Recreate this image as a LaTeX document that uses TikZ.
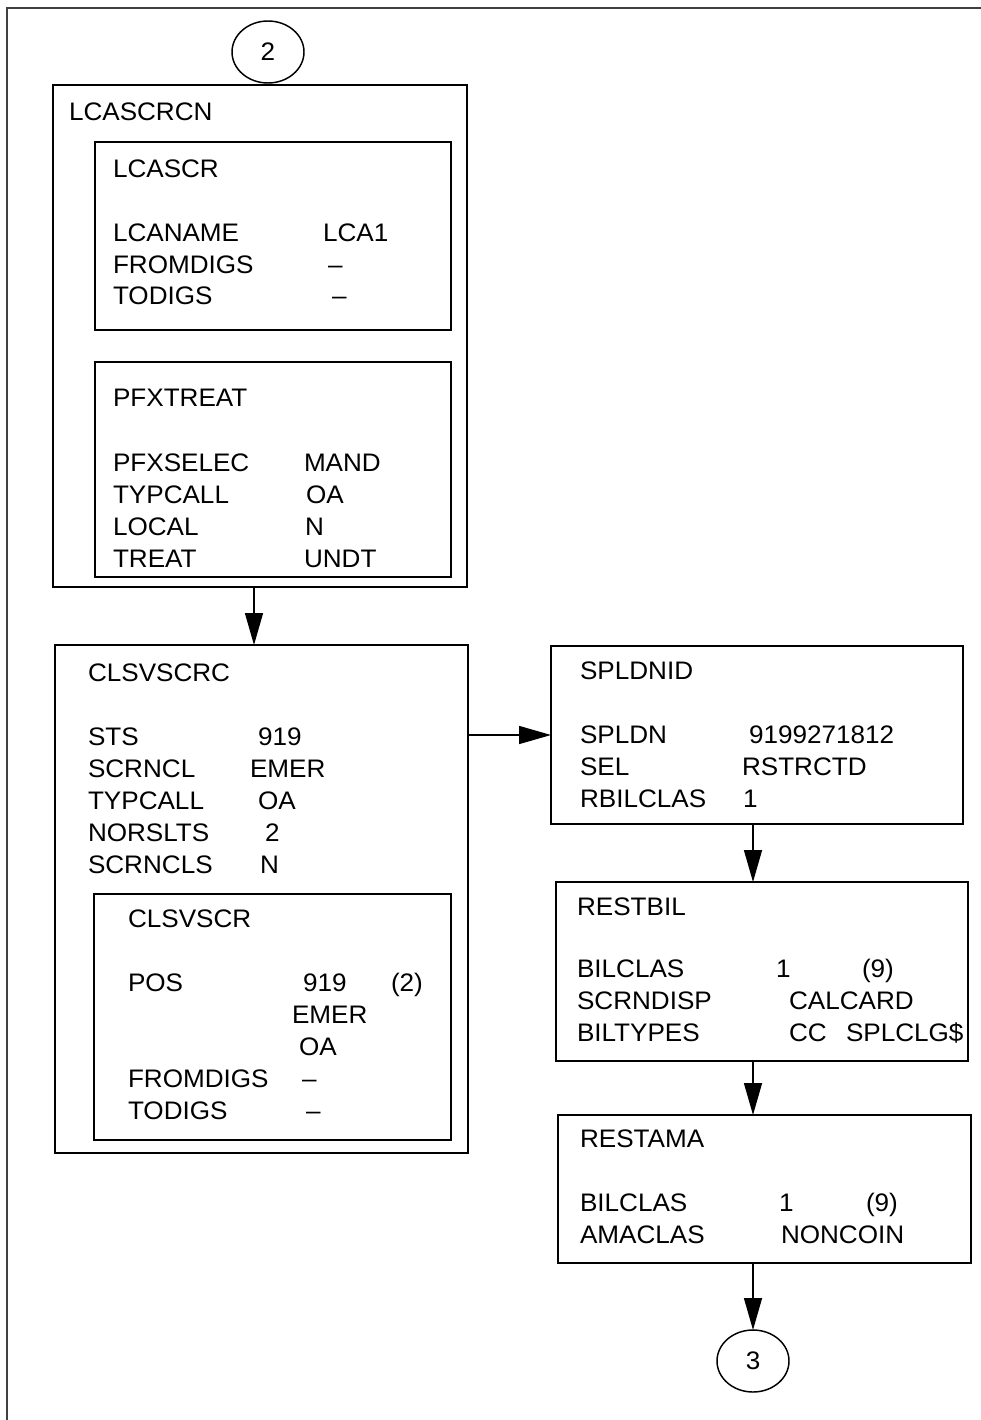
\documentclass[tikz,border=0pt]{standalone}
\usepackage{fontspec}
\setmainfont{Liberation Sans}[FakeStretch=1.03]
\usetikzlibrary{shapes.geometric, arrows.meta, positioning}

\begin{document}
\begin{tikzpicture}[
  x=0.75pt, y=-0.75pt,
  font=\fontsize{19}{22}\selectfont,
  frame/.style={draw=black!75, line width=1.5pt},
  box/.style 2 args={rectangle, draw=black, line width=1.5pt, inner sep=0pt, outer sep=0pt, minimum width=#1*0.75pt, minimum height=#2*0.75pt},
  conn/.style={ellipse, draw=black, line width=1.1pt, inner sep=0pt, outer sep=0pt, minimum width=54pt, minimum height=46.5pt},
  txt/.style={anchor=base west, inner sep=0pt, outer sep=0pt},
  arr/.style={-{Triangle[length=24pt, width=13.5pt]}, line width=1.1pt}
]
\useasboundingbox (0,0) rectangle (981,1420);

% page frame
\draw[frame] (7,1420) -- (7,8) -- (981,8);

% Connectors in and out
\node[conn] (c2) at (268,52) {2};
\node[conn] (c3) at (753,1361) {3};

% Left column boxes
\node[box={414}{502}] (lcascrcn) at (260,336) {};
\node[box={356}{188}] (lcascr) at (273,236) {};
\node[box={356}{215}] (pfxtreat) at (273,469.5) {};
\node[box={413}{508}] (clsvscrc) at (261.5,899) {};
\node[box={357}{246}] (clsvscr) at (272.5,1017) {};

% Right column boxes
\node[box={412}{178}] (spldnid) at (757,735) {};
\node[box={412}{179}] (restbil) at (762,971.5) {};
\node[box={413}{148}] (restama) at (764.5,1189) {};

% LCASCRCN
\node[txt] (lcascrcn-t) at (69,120) {LCASCRCN};
\node[txt] (lcascr-t) at (113,177) {LCASCR};
\node[txt] (lcaname) at (113,241) {LCANAME};
\node[txt] (lcaname-v) at (323,241) {LCA1};
\node[txt] (fromdigs1) at (113,273) {FROMDIGS};
\node[txt] (fromdigs1-v) at (328,273) {–};
\node[txt] (todigs1) at (113,304) {TODIGS};
\node[txt] (todigs1-v) at (332,304) {–};
\node[txt] (pfxtreat-t) at (113,406) {PFXTREAT};
\node[txt] (pfxselec) at (113,471) {PFXSELEC};
\node[txt] (pfxselec-v) at (304,471) {MAND};
\node[txt] (typcall1) at (113,503) {TYPCALL};
\node[txt] (typcall1-v) at (306,503) {OA};
\node[txt] (local) at (113,535) {LOCAL};
\node[txt] (local-v) at (305,535) {N};
\node[txt] (treat) at (113,567) {TREAT};
\node[txt] (treat-v) at (304,567) {UNDT};

% CLSVSCRC
\node[txt] (clsvscrc-t) at (88,681) {CLSVSCRC};
\node[txt] (sts) at (88,745) {STS};
\node[txt] (sts-v) at (258,745) {919};
\node[txt] (scrncl) at (88,777) {SCRNCL};
\node[txt] (scrncl-v) at (250,777) {EMER};
\node[txt] (typcall2) at (88,809) {TYPCALL};
\node[txt] (typcall2-v) at (258,809) {OA};
\node[txt] (norslts) at (88,841) {NORSLTS};
\node[txt] (norslts-v) at (265,841) {2};
\node[txt] (scrncls) at (88,873) {SCRNCLS};
\node[txt] (scrncls-v) at (260,873) {N};
\node[txt] (clsvscr-t) at (128,927) {CLSVSCR};
\node[txt] (pos) at (128,991) {POS};
\node[txt] (pos-v1) at (303,991) {919};
\node[txt] (pos-n) at (391,991) {(2)};
\node[txt] (pos-v2) at (292,1023) {EMER};
\node[txt] (pos-v3) at (299,1055) {OA};
\node[txt] (fromdigs2) at (128,1087) {FROMDIGS};
\node[txt] (fromdigs2-v) at (302,1087) {–};
\node[txt] (todigs2) at (128,1119) {TODIGS};
\node[txt] (todigs2-v) at (306,1119) {–};

% SPLDNID
\node[txt] (spldnid-t) at (580,679) {SPLDNID};
\node[txt] (spldn) at (580,743) {SPLDN};
\node[txt] (spldn-v) at (749,743) {9199271812};
\node[txt] (sel) at (580,775) {SEL};
\node[txt] (sel-v) at (742,775) {RSTRCTD};
\node[txt] (rbilclas) at (580,807) {RBILCLAS};
\node[txt] (rbilclas-v) at (743,807) {1};

% RESTBIL
\node[txt] (restbil-t) at (577,915) {RESTBIL};
\node[txt] (bilclas1) at (577,977) {BILCLAS};
\node[txt] (bilclas1-v) at (776,977) {1};
\node[txt] (bilclas1-n) at (862,977) {(9)};
\node[txt] (scrndisp) at (577,1009) {SCRNDISP};
\node[txt] (scrndisp-v) at (789,1009) {CALCARD};
\node[txt] (biltypes) at (577,1041) {BILTYPES};
\node[txt] (biltypes-v1) at (789,1041) {CC};
\node[txt] (biltypes-v2) at (846,1041) {SPLCLG\$};

% RESTAMA
\node[txt] (restama-t) at (580,1147) {RESTAMA};
\node[txt] (bilclas2) at (580,1211) {BILCLAS};
\node[txt] (bilclas2-v) at (779,1211) {1};
\node[txt] (bilclas2-n) at (866,1211) {(9)};
\node[txt] (amaclas) at (580,1243) {AMACLAS};
\node[txt] (amaclas-v) at (781,1243) {NONCOIN};

% Arrows
\draw[arr] ([xshift=-4.5pt]lcascrcn.south) -- ([xshift=-4.5pt]lcascrcn.south |- clsvscrc.north);
\draw[arr] (clsvscrc.east |- spldnid.west) -- (spldnid.west);
\draw[arr] (spldnid.south -| c3) -- (restbil.north -| c3);
\draw[arr] (restbil.south -| c3) -- (restama.north -| c3);
\draw[arr] (restama.south -| c3) -- (c3.north);

\end{tikzpicture}
\end{document}
